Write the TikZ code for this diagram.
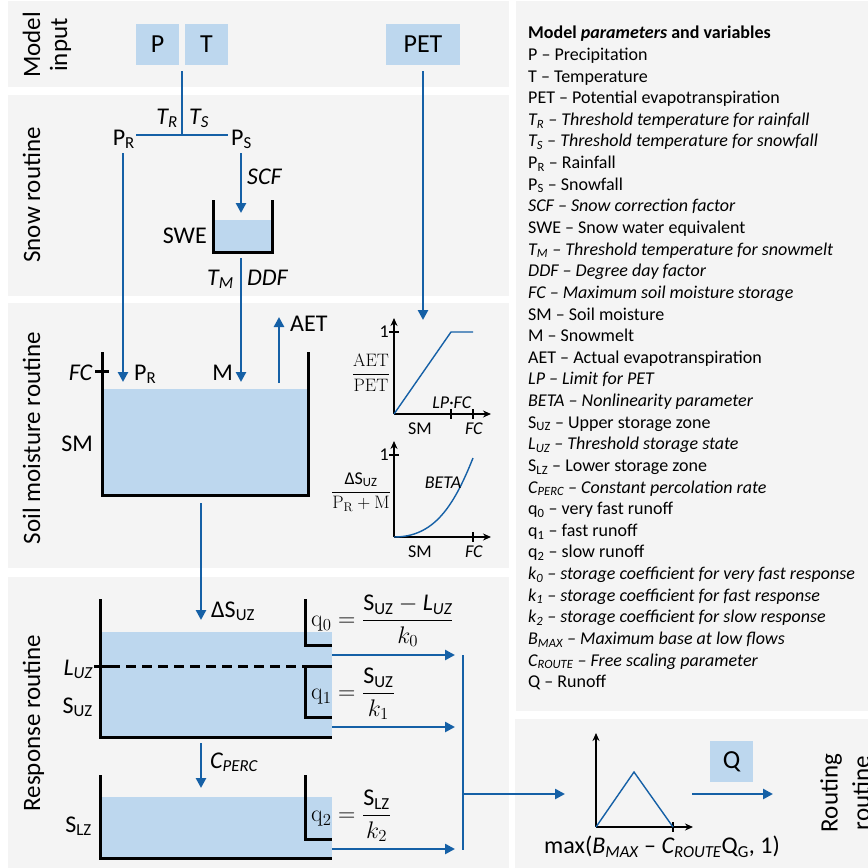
\RequirePackage{fix-cm}
\documentclass[tikz,border=0pt]{standalone}
\usepackage{amsmath}
\usepackage[no-math]{fontspec}
\setmainfont{Carlito}
\usetikzlibrary{arrows.meta}

\definecolor{panelgray}{HTML}{F4F4F4}
\definecolor{waterblue}{HTML}{BDD7EE}
\definecolor{flowblue}{HTML}{1560A6}

\newcommand\boxfont{\fontsize{26}{30}\selectfont}
\newcommand\lblfont{\fontsize{24}{28}\selectfont}
\newcommand\sectfont{\fontsize{25}{27}\selectfont}
\newcommand\plotfont{\fontsize{18}{20}\selectfont}
\newcommand\legfont{\fontsize{18}{21.63}\selectfont}

\begin{document}
\begin{tikzpicture}[x=1pt,y=-1pt,
  panel/.style={fill=panelgray},
  inbox/.style={fill=waterblue,minimum width=43pt,minimum height=41pt,inner sep=0pt,font=\boxfont},
  flow/.style={draw=flowblue,line width=2.6pt,-{Triangle[length=10pt,width=10pt]}},
  flowline/.style={draw=flowblue,line width=2.6pt},
  wall/.style={draw=black,line width=3pt},
  water/.style={fill=waterblue},
  lbl/.style={inner sep=0pt,font=\lblfont},
  sect/.style={rotate=90,inner sep=0pt,align=center,font=\sectfont},
  plotaxis/.style={draw=black,line width=1.5pt,-{Stealth[length=8pt,width=7pt]}},
  plotline/.style={draw=flowblue,line width=1.4pt},
  plotlbl/.style={inner sep=0pt,font=\plotfont},
  eq/.style={inner sep=0pt,font=\lblfont,anchor=west}]

  \useasboundingbox (0,0) rectangle (868,868);

  % background panels
  \fill[panel] (8,1) rectangle (509,87);
  \fill[panel] (8,95) rectangle (509,296);
  \fill[panel] (8,303) rectangle (509,568);
  \fill[panel] (8,577) rectangle (509,868);
  \fill[panel] (516,1) rectangle (868,711);
  \fill[panel] (515,719) rectangle (868,868);

  % section titles
  \node[sect] (inputlbl) at (47,45) {Model\\input};
  \node[sect,anchor=base] (snowlbl) at (40,195) {Snow routine};
  \node[sect,anchor=base] (soillbl) at (40,438) {Soil moisture routine};
  \node[sect,anchor=base] (resplbl) at (40,723) {Response routine};
  \node[sect,font=\fontsize{25}{32}\selectfont] (routelbl) at (845,793) {Routing\\routine};

  % model input
  \node[inbox] (P) at (157.5,44.5) {P};
  \node[inbox] (T) at (206.5,44.5) {T};
  \node[inbox,minimum width=74pt] (PET) at (423,44.5) {PET};

  % snow routine
  \coordinate (PTout) at (182,71);
  \coordinate (split) at (182,135);
  \coordinate (splitL) at (136,135);
  \coordinate (splitR) at (228,135);
  \coordinate (PRout) at (123,153);
  \coordinate (PRin) at (123,382);
  \coordinate (PSout) at (241,153);
  \coordinate (SWEin) at (241,213);
  \coordinate (SWEout) at (241,258);
  \coordinate (Min) at (241,382);
  \coordinate (PETout) at (423,71);
  \coordinate (PETin) at (423,320);

  \draw[flowline] (PTout) -- (split);
  \draw[flowline] (splitL) -- (splitR);
  \node[lbl,anchor=base east] (TR) at (178,124) {\textit{T\textsubscript{R}}};
  \node[lbl,anchor=base west] (TS) at (189,124) {\textit{T\textsubscript{S}}};
  \node[lbl,anchor=base east] (PRlbl) at (135,145) {P\textsubscript{R}};
  \node[lbl,anchor=base west] (PSlbl) at (231,145) {P\textsubscript{S}};

  \fill[water] (213,220) rectangle (272,252);
  \draw[wall] (213,200) -- (213,252) -- (272,252) -- (272,200);
  \draw[flow] (PSout) -- (SWEin);
  \node[lbl,anchor=base west] (SCF) at (247,184) {\textit{SCF}};
  \node[lbl,anchor=base east] (SWE) at (207,243) {SWE};
  \draw[flow] (SWEout) -- (Min);
  \node[lbl,anchor=base east] (TM) at (234,285) {\textit{T\textsubscript{M}}};
  \node[lbl,anchor=base west] (DDF) at (247,285) {\textit{DDF}};
  \draw[flow] (PRout) -- (PRin);
  \draw[flow] (PETout) -- (PETin);

  % soil moisture routine
  \fill[water] (102,389) rectangle (308,495);
  \draw[wall] (102,352) -- (102,495) -- (308,495) -- (308,352);
  \draw[wall] (95,371) -- (109,371);
  \node[lbl,anchor=base east] (FC) at (93,380) {\textit{FC}};
  \node[lbl,anchor=base west] (PRsoil) at (134,380) {P\textsubscript{R}};
  \node[lbl,anchor=base east] (M) at (233,380) {M};
  \node[lbl,anchor=base east] (SM) at (93,451) {SM};
  \coordinate (AETfrom) at (279,383);
  \coordinate (AETto) at (279,317);
  \draw[flow] (AETfrom) -- (AETto);
  \node[lbl,anchor=base west] (AET) at (290,331) {AET};

  % AET/PET plot
  \draw[plotaxis] (394,414) -- (394,318);
  \draw[plotaxis] (394,414) -- (491,414);
  \draw[line width=1.5pt] (389,332) -- (399,332);
  \draw[line width=1.5pt] (451,409) -- (451,419);
  \draw[line width=1.5pt] (473,409) -- (473,419);
  \draw[plotline] (394,414) -- (451,332) -- (473,332);
  \node[plotlbl,anchor=east] (one1) at (389,332) {1};
  \node[plotlbl,anchor=base] (LPFC) at (452,408) {\textit{LP·FC}};
  \node[plotlbl] (SM1) at (420,429) {SM};
  \node[plotlbl] (FC1) at (474,429) {\textit{FC}};
  \node[plotlbl] (aetpet) at (371,373) {$\dfrac{\mathrm{AET}}{\mathrm{PET}}$};

  % BETA plot
  \draw[plotaxis] (394,537) -- (394,441);
  \draw[plotaxis] (394,537) -- (491,537);
  \draw[line width=1.5pt] (389,455) -- (399,455);
  \draw[line width=1.5pt] (473,532) -- (473,542);
  \draw[plotline] (394,537) .. controls (433.5,537) and (453.3,507.4) .. (473,458);
  \node[plotlbl,anchor=east] (one2) at (389,455) {1};
  \node[plotlbl] (BETA) at (443,483) {\textit{BETA}};
  \node[plotlbl] (SM2) at (420,552) {SM};
  \node[plotlbl] (FC2) at (474,552) {\textit{FC}};
  \node[plotlbl] (recharge) at (361,492) {$\dfrac{\text{ΔS\textsubscript{UZ}}}{\mathrm{P}_\mathrm{R}+\mathrm{M}}$};

  % response routine
  \coordinate (SMout) at (201,503);
  \coordinate (UZin) at (201,620);
  \coordinate (percfrom) at (201,743);
  \coordinate (percto) at (201,788);
  \draw[flow] (SMout) -- (UZin);
  \node[lbl,anchor=base west] (dSUZ) at (211,617) {ΔS\textsubscript{UZ}};

  \fill[water] (100,632) rectangle (332,737);
  \draw[wall] (100,599) -- (100,737) -- (332,737);
  \draw[wall] (305,599) -- (305,645) -- (332,645);
  \draw[wall] (332,666) -- (305,666) -- (305,717) -- (332,717);
  \draw[wall] (94,666) -- (110,666);
  \draw[line width=3pt,dash pattern=on 10pt off 6pt] (110,666) -- (305,666);
  \node[lbl,anchor=base east] (LUZ) at (93,675) {\textit{L\textsubscript{UZ}}};
  \node[lbl,anchor=base east] (SUZ) at (93,713) {S\textsubscript{UZ}};

  \draw[flow] (percfrom) -- (percto);
  \node[lbl,anchor=base west] (CPERC) at (210,768) {\textit{C\textsubscript{PERC}}};

  \fill[water] (100,797) rectangle (332,858);
  \draw[wall] (100,775) -- (100,858) -- (332,858);
  \draw[wall] (305,775) -- (305,839) -- (332,839);
  \node[lbl,anchor=base east] (SLZ) at (92,832) {S\textsubscript{LZ}};

  \node[eq] (q0eq) at (311,621) {$\displaystyle\mathrm{q}_0=\frac{\text{S\textsubscript{UZ}}-\text{\textit{L\textsubscript{UZ}}}}{k_0}$};
  \node[eq] (q1eq) at (311,694) {$\displaystyle\mathrm{q}_1=\frac{\text{S\textsubscript{UZ}}}{k_1}$};
  \node[eq] (q2eq) at (311,816) {$\displaystyle\mathrm{q}_2=\frac{\text{S\textsubscript{LZ}}}{k_2}$};

  \coordinate (q0from) at (332,655);
  \coordinate (q0to) at (455,655);
  \coordinate (q1from) at (332,727);
  \coordinate (q1to) at (455,727);
  \coordinate (q2from) at (332,849);
  \coordinate (q2to) at (455,849);
  \coordinate (sumtop) at (463,655);
  \coordinate (sumbot) at (463,850);
  \coordinate (summid) at (463,794);
  \coordinate (routein) at (565,794);
  \draw[flow] (q0from) -- (q0to);
  \draw[flow] (q1from) -- (q1to);
  \draw[flow] (q2from) -- (q2to);
  \draw[flowline] (sumtop) -- (sumbot);
  \draw[flow] (summid) -- (routein);

  % routing routine
  \draw[plotaxis] (596,827) -- (596,733);
  \draw[plotaxis] (596,827) -- (693,827);
  \draw[line width=1.5pt] (673,822) -- (673,832);
  \draw[plotline] (596,827) -- (634,772) -- (673,827);
  \node[lbl] (maxlbl) at (662,847) {max(\textit{B\textsubscript{MAX}} -- \textit{C\textsubscript{ROUTE}}Q\textsubscript{G}, 1)};
  \node[inbox] (Q) at (731.5,761.5) {Q};
  \coordinate (Qfrom) at (692,794);
  \coordinate (Qto) at (773,794);
  \draw[flow] (Qfrom) -- (Qto);

  % legend
  \node[anchor=north west,inner sep=0pt,align=left,font=\legfont] (legend) at (528,26) {%
    \textbf{Model \textit{parameters} and variables}\\
    P -- Precipitation\\
    T -- Temperature\\
    PET -- Potential evapotranspiration\\
    \textit{T\textsubscript{R} -- Threshold temperature for rainfall}\\
    \textit{T\textsubscript{S} -- Threshold temperature for snowfall}\\
    P\textsubscript{R} -- Rainfall\\
    P\textsubscript{S} -- Snowfall\\
    \textit{SCF -- Snow correction factor}\\
    SWE -- Snow water equivalent\\
    \textit{T\textsubscript{M} -- Threshold temperature for snowmelt}\\
    \textit{DDF -- Degree day factor}\\
    \textit{FC -- Maximum soil moisture storage}\\
    SM -- Soil moisture\\
    M -- Snowmelt\\
    AET -- Actual evapotranspiration\\
    \textit{LP -- Limit for PET}\\
    \textit{BETA -- Nonlinearity parameter}\\
    S\textsubscript{UZ} -- Upper storage zone\\
    \textit{L\textsubscript{UZ} -- Threshold storage state}\\
    S\textsubscript{LZ} -- Lower storage zone\\
    \textit{C\textsubscript{PERC} -- Constant percolation rate}\\
    q\textsubscript{0} -- very fast runoff\\
    q\textsubscript{1} -- fast runoff\\
    q\textsubscript{2} -- slow runoff\\
    \textit{k\textsubscript{0} -- storage coefficient for very fast response}\\
    \textit{k\textsubscript{1} -- storage coefficient for fast response}\\
    \textit{k\textsubscript{2} -- storage coefficient for slow response}\\
    \textit{B\textsubscript{MAX} -- Maximum base at low flows}\\
    \textit{C\textsubscript{ROUTE} -- Free scaling parameter}\\
    Q -- Runoff};
\end{tikzpicture}
\end{document}
